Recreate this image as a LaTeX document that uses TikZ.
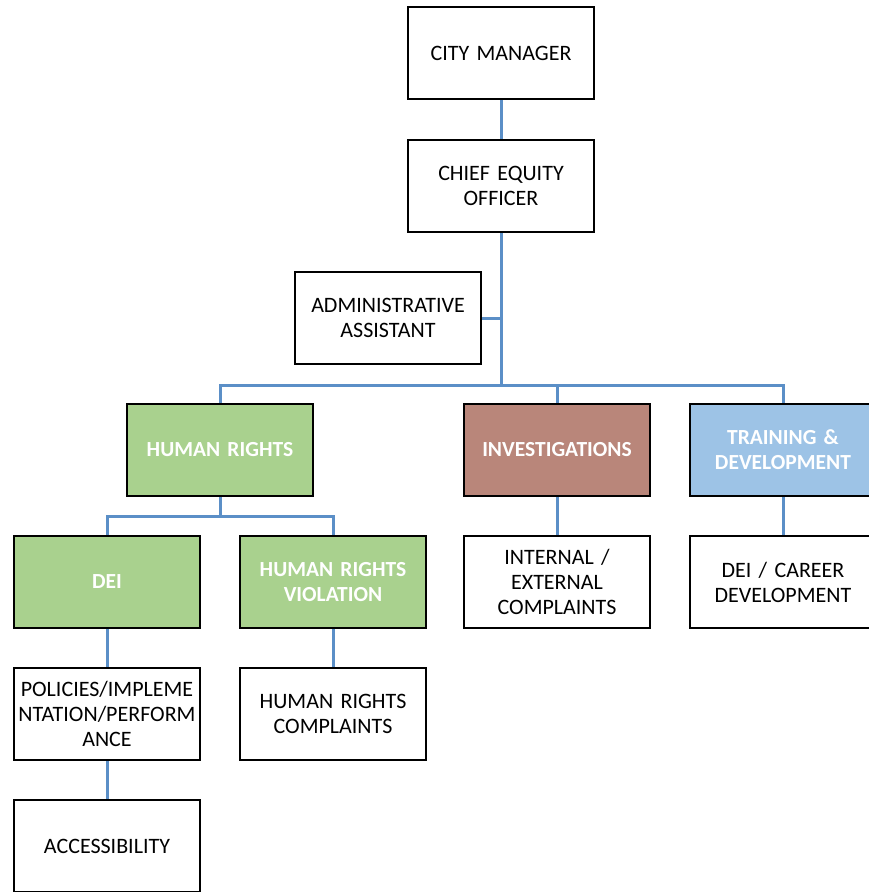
\documentclass[tikz,border=0pt]{standalone}
\usepackage{fontspec}
\setmainfont{Carlito}[WordSpace=0.75]
\definecolor{hrgreen}{HTML}{A9D18E}
\definecolor{invbrown}{HTML}{B9867A}
\definecolor{tdblue}{HTML}{9DC3E6}
\definecolor{linkblue}{HTML}{5B8FC7}
\begin{document}
\begin{tikzpicture}[x=1pt,y=-1pt,
  box/.style={draw=black,line width=2.8pt,minimum width=186pt,minimum height=92pt,
    inner sep=0pt,align=center,text width=186pt,font=\fontsize{22}{25}\selectfont,fill=white},
  colbox/.style={box,text=white,font=\fontsize{21.5}{25}\selectfont\bfseries},
  link/.style={draw=linkblue,line width=3pt}]
\useasboundingbox (0,0) rectangle (868,892);
\node[box] (cm) at (501,53) {CITY MANAGER};
\node[box] (ceo) at (501,186) {CHIEF EQUITY\\OFFICER};
\node[box] (adm) at (388,318) {ADMINISTRATIVE\\ASSISTANT};
\node[colbox,fill=hrgreen] (hr) at (220,450) {HUMAN RIGHTS};
\node[colbox,fill=invbrown] (inv) at (557,450) {INVESTIGATIONS};
\node[colbox,fill=tdblue] (td) at (783,450) {TRAINING \&\\DEVELOPMENT};
\node[colbox,fill=hrgreen] (dei) at (107,582) {DEI};
\node[colbox,fill=hrgreen] (hrv) at (333,582) {HUMAN RIGHTS\\VIOLATION};
\node[box] (iec) at (557,582) {INTERNAL /\\EXTERNAL\\COMPLAINTS};
\node[box] (dcd) at (783,582) {DEI / CAREER\\DEVELOPMENT};
\node[box] (pol) at (107,714) {POLICIES/IMPLEME\\NTATION/PERFORM\\ANCE};
\node[box] (hrc) at (333,714) {HUMAN RIGHTS\\COMPLAINTS};
\node[box] (acc) at (107,846) {ACCESSIBILITY};
\coordinate (bus) at (501,385);
\coordinate (hrbus) at (220,516);
\path[link] (cm.south) -- (ceo.north);
\path[link] (ceo.south) -- (bus);
\path[link] (adm.east) -- (adm.east -| bus);
\path[link] (hr.north) |- (bus) -| (td.north);
\path[link] (inv.north) -- (inv.north |- bus);
\path[link] (hr.south) -- (hrbus);
\path[link] (dei.north) |- (hrbus) -| (hrv.north);
\path[link] (dei.south) -- (pol.north);
\path[link] (pol.south) -- (acc.north);
\path[link] (hrv.south) -- (hrc.north);
\path[link] (inv.south) -- (iec.north);
\path[link] (td.south) -- (dcd.north);
\end{tikzpicture}
\end{document}
